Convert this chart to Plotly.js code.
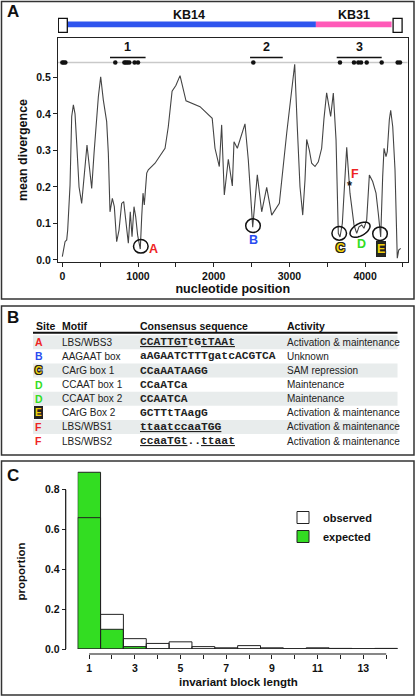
<!DOCTYPE html>
<html><head><meta charset="utf-8">
<script src="https://cdn.plot.ly/plotly-3.0.1.min.js"></script>
<style>html,body{margin:0;padding:0;background:#fff}#chart{width:416px;height:697px}</style>
</head><body><div id="chart"></div>
<script>
// ---------- Panel A data ----------
const ntPos = [0,36,58,71,102,111,124,146,168,190,221,256,291,326,357,388,419,445,476,507,542,586,608,630,661,687,718,749,784,811,841,872,898,921,947,969,995,1030,1049,1066,1083,1115,1136,1225,1357,1400,1450,1500,1555,1634,1819,1980,2017,2074,2105,2140,2193,2246,2268,2312,2413,2457,2515,2576,2634,2700,2766,2867,2964,3070,3104,3140,3176,3206,3228,3263,3294,3338,3382,3426,3457,3492,3523,3545,3580,3616,3646,3668,3699,3734,3757,3778,3800,3823,3853,3889,3919,3955,3985,4021,4056,4100,4144,4174,4206,4232,4250,4276,4293,4320,4338,4365,4395,4425,4444,4470];
const meanDiv = [0.009,0.05,0.055,0.082,0.205,0.329,0.393,0.425,0.40,0.32,0.20,0.155,0.233,0.315,0.256,0.196,0.292,0.37,0.447,0.502,0.438,0.379,0.292,0.132,0.169,0.146,0.05,0.082,0.155,0.16,0.10,0.046,0.132,0.064,0.146,0.119,0.068,0.03,0.119,0.183,0.151,0.238,0.247,0.265,0.306,0.365,0.462,0.478,0.505,0.436,0.42,0.388,0.306,0.256,0.37,0.178,0.276,0.203,0.324,0.306,0.373,0.274,0.09,0.233,0.132,0.199,0.123,0.155,0.347,0.536,0.365,0.2,0.123,0.219,0.33,0.301,0.265,0.256,0.269,0.306,0.388,0.458,0.42,0.393,0.457,0.329,0.073,0.063,0.10,0.228,0.309,0.247,0.183,0.146,0.096,0.073,0.091,0.096,0.087,0.11,0.233,0.215,0.183,0.128,0.063,0.228,0.306,0.283,0.297,0.384,0.41,0.365,0.247,0.005,0.027,0.032];
const invariantSites = [0,20,40,700,820,840,860,885,955,1000,2523,3668,3853,3910,3946,4021,4219,4430,4461];
const invariantLevel = 0.541;
const blockNames = ['1','2','3'];
const blockStart = [630,2480,3625];
const blockEnd = [1100,2912,4219];
const regionNames = ['KB14','KB31'];
const regionStart = [0,3350];
const regionEnd = [3350,4350];
const regionColors = ['#2f55ee','#ff5ab8'];
const siteNames = ['A','B','C','D','E'];
const sitePos = [1037,2519,3658,3933,4197];
const siteDiv = [0.0375,0.094,0.073,0.083,0.072];
const siteFName = 'F';
const siteFPos = 3800;
const siteFDiv = 0.21;
const yTicksA = [0,0.1,0.2,0.3,0.4,0.5];

// ---------- Panel B data ----------
const tableHeader = ['Site','Motif','Consensus sequence','Activity'];
const rowSite = ['A','B','C','D','D','E','F','F'];
const rowMotif = ['LBS/WBS3','AAGAAT box','CArG box 1','CCAAT box 1','CCAAT box 2','CArG Box 2','LBS/WBS1','LBS/WBS2'];
const rowSeq = ['<u>CCATTGT</u>tG<u>tTAAt</u>','aAGAATCTTTgatcACGTCA','CCaAATAAGG','CCaATCa','CCAATCA','GCTTtTAagG','<u>ttaat</u><u>ccaaTGG</u>','<u>ccaaTGt</u>..<u>ttaat</u>'];
const rowActivity = ['Activation &amp; maintenance','Unknown','SAM repression','Maintenance','Maintenance','Activation &amp; maintenance','Activation &amp; maintenance','Activation &amp; maintenance'];

// ---------- Panel C data ----------
const blockLength = [1,2,3,4,5,6,7,8,9,10,11,12,13,14];
const observedProp = [0.66,0.174,0.052,0.028,0.036,0.012,0.006,0.017,0.006,0.001,0.006,0.003,0.001,0.003];
const expectedProp = [0.888,0.099,0.012,0.001,0,0,0,0,0,0,0,0,0,0];
const xTickValsC = [1,2,3,4,5,6,7,8,9,10,11,12,13,14];
const yTicksC = [0,0.2,0.4,0.6,0.8];

// ---------- helpers ----------
const W = 416, H = 697;
const X = p => p / W;
const Y = p => 1 - p / H;
const FONT = 'Liberation Sans, Arial, Helvetica, sans-serif';
const MONO = 'Liberation Mono, Courier New, monospace';
const RED = '#ee2424', BLUE = '#2a4cf0', GREEN = '#33dd22', YEL = '#f2d20a';
const OUTLINE = '-1px -1px 0 #222, 1px -1px 0 #222, -1px 1px 0 #222, 1px 1px 0 #222, 0 1px 0 #222, 0 -1px 0 #222, 1px 0 0 #222, -1px 0 0 #222';
const siteColor = {A:RED, B:BLUE, C:YEL, D:GREEN, E:YEL, F:RED};

// Panel A axes geometry
const axA = {x0:58, x1:407.5, y0:38, y1:262, xr:[-57,4560], yr:[-0.0055,0.608]};
const pxPerX = (axA.x1-axA.x0)/(axA.xr[1]-axA.xr[0]);
const pxPerY = (axA.y1-axA.y0)/(axA.yr[1]-axA.yr[0]);
const dX = p => p/pxPerX, dY = p => p/pxPerY;

const traces = [];
traces.push({type:'scatter', mode:'lines', x:ntPos, y:meanDiv, xaxis:'x', yaxis:'y',
  line:{color:'#444', width:1.1}, showlegend:false, hoverinfo:'x+y'});
traces.push({type:'scatter', mode:'markers', x:invariantSites, y:invariantSites.map(()=>invariantLevel),
  xaxis:'x', yaxis:'y', marker:{color:'#111', size:4.5}, showlegend:false, cliponaxis:false});

traces.push({type:'bar', name:'expected', x:blockLength, y:expectedProp, xaxis:'x2', yaxis:'y2', width:1,
  marker:{color:GREEN, line:{color:'#222', width:1}}, showlegend:true});
traces.push({type:'bar', name:'observed', x:blockLength, y:observedProp, xaxis:'x2', yaxis:'y2', width:1,
  marker:{color:'rgba(255,255,255,0)', line:{color:'#222', width:1}}, showlegend:true});

const shapes = [];
const ann = [];
function A(o){ ann.push(Object.assign({showarrow:false, xanchor:'center', yanchor:'middle'}, o)); }

// panel borders
[[1.5,1.5,414,299],[1.5,306,414,455],[1.5,461,414,695]].forEach(b=>{
  shapes.push({type:'rect', xref:'paper', yref:'paper', x0:X(b[0]), x1:X(b[2]), y0:Y(b[3]), y1:Y(b[1]),
    line:{color:'#333', width:1.5}, fillcolor:'rgba(0,0,0,0)', layer:'above'});
});
// panel letters
[['A',11.5],['B',317],['C',475]].forEach(l=>{
  A({text:'<b>'+l[0]+'</b>', xref:'paper', yref:'paper', x:X(5), y:Y(l[1]), xanchor:'left',
    font:{family:FONT, size:17, color:'#111'}});
});

// region bar (KB14 / KB31)
regionNames.forEach((n,i)=>{
  shapes.push({type:'rect', xref:'x', yref:'paper', x0:regionStart[i], x1:regionEnd[i], y0:Y(27.3), y1:Y(21.5),
    line:{width:0}, fillcolor:regionColors[i]});
  A({text:'<b>'+n+'</b>', xref:'x', yref:'paper', x:(regionStart[i]+regionEnd[i])/2, y:Y(15),
    font:{family:FONT, size:12.5, color:'#111'}});
});
// end brackets
[[regionStart[0], -1],[regionEnd[1], 1]].forEach(e=>{
  const c = e[0] + e[1]*dX(e[1]<0?-0.5:6);
  shapes.push({type:'rect', xref:'x', yref:'paper', x0:c-dX(4.5), x1:c+dX(4.5), y0:Y(32.3), y1:Y(18.3),
    line:{color:'#111', width:1.3}, fillcolor:'#fff'});
});

// gray invariant-site line
shapes.push({type:'line', xref:'x domain', yref:'y', x0:0, x1:1, y0:invariantLevel, y1:invariantLevel,
  line:{color:'#c9c9c9', width:1.6}, layer:'below'});
// conserved blocks 1,2,3
blockNames.forEach((n,i)=>{
  const yb = invariantLevel + dY(5);
  shapes.push({type:'line', xref:'x', yref:'y', x0:blockStart[i], x1:blockEnd[i], y0:yb, y1:yb, line:{color:'#111', width:1.6}});
  A({text:'<b>'+n+'</b>', xref:'x', yref:'y', x:(blockStart[i]+blockEnd[i])/2, y:yb+dY(1), yanchor:'bottom',
    font:{family:FONT, size:12.5, color:'#111'}});
});

// site circles and labels
siteNames.forEach((n,i)=>{
  const cx = sitePos[i], cy = siteDiv[i];
  if (n === 'D') {
    const a = 11, b = 6, th = -30*Math.PI/180;
    let pts = [];
    for (let k=0;k<=48;k++){
      const t = k/48*2*Math.PI;
      const ex = a*Math.cos(t)*Math.cos(th) - b*Math.sin(t)*Math.sin(th);
      const ey = a*Math.cos(t)*Math.sin(th) + b*Math.sin(t)*Math.cos(th);
      pts.push((cx + dX(ex)).toFixed(2)+','+(cy - dY(ey)).toFixed(5));
    }
    shapes.push({type:'path', xref:'x', yref:'y', path:'M'+pts.join('L')+'Z', line:{color:'#111', width:1.5}});
  } else {
    shapes.push({type:'circle', xref:'x', yref:'y', x0:cx-dX(7.3), x1:cx+dX(7.3), y0:cy-dY(6.8), y1:cy+dY(6.8),
      line:{color:'#111', width:1.5}});
  }
});
const labOff = {A:[13,-3], B:[0,-14.5], C:[1,-15], D:[1.5,-14.5], E:[1,-15.3]};
siteNames.forEach((n,i)=>{
  const o = labOff[n];
  const a = {text:'<b>'+n+'</b>', xref:'x', yref:'y', x:sitePos[i]+dX(o[0]), y:siteDiv[i]+dY(o[1]),
    font:{family:FONT, size:12.5, color:siteColor[n]}};
  if (n==='C' || n==='E') a.font.shadow = OUTLINE;
  if (n==='E') {a.bgcolor = '#2a2a1e'; a.borderpad = 0; a.bordercolor='#222'; a.borderwidth=1;}
  A(a);
});
A({text:'<b>'+siteFName+'</b>', xref:'x', yref:'y', x:siteFPos+dX(5), y:siteFDiv+dY(9.5),
  font:{family:FONT, size:12.5, color:RED}});
A({text:'<b>*</b>', xref:'x', yref:'y', x:siteFPos, y:siteFDiv-dY(2),
  font:{family:FONT, size:13, color:'#111'}});

// ---------- Panel B table ----------
const colX = [33.5, 60, 137.5, 285];
const headY = 326, rowY0 = 342.3, rowStep = 14.1;
tableHeader.forEach((h,j)=>{
  A({text:'<b>'+h+'</b>', xref:'paper', yref:'paper', x:X(colX[j]), y:Y(headY), xanchor:'left',
    font:{family:FONT, size:10.5, color:'#111'}});
});
shapes.push({type:'line', xref:'paper', yref:'paper', x0:X(33), x1:X(397.5), y0:Y(332.8), y1:Y(332.8), line:{color:'#111', width:2}});
rowSite.forEach((s,i)=>{
  const yc = rowY0 + i*rowStep;
  if (i%2===0) shapes.push({type:'rect', xref:'paper', yref:'paper', x0:X(33), x1:X(397.5), y0:Y(yc+7), y1:Y(yc-7),
    line:{width:0}, fillcolor:'#e8ecec', layer:'below'});
  const sa = {text:'<b>'+s+'</b>', xref:'paper', yref:'paper', x:X(38.5), y:Y(yc),
    font:{family:FONT, size:10.5, color:siteColor[s]}};
  if (s==='C') { sa.font.shadow = OUTLINE; sa.font.size = 10; }
  if (s==='E') { sa.font.shadow = OUTLINE; sa.font.size = 10; sa.bgcolor='#222'; sa.borderpad=0; sa.bordercolor='#222'; sa.borderwidth=1; }
  A(sa);
  A({text:rowMotif[i], xref:'paper', yref:'paper', x:X(colX[1]), y:Y(yc), xanchor:'left',
    font:{family:FONT, size:10, color:'#222'}});
  A({text:rowSeq[i], xref:'paper', yref:'paper', x:X(colX[2]), y:Y(yc), xanchor:'left',
    font:{family:MONO, size:11.3, color:'#222', weight:'bold'}});
  A({text:rowActivity[i], xref:'paper', yref:'paper', x:X(colX[3]), y:Y(yc), xanchor:'left',
    font:{family:FONT, size:10, color:'#222'}});
});

// ---------- Panel C extras ----------
const cX0 = 77.7, cUnit = 22.85;
shapes.push({type:'line', xref:'x2', yref:'paper', x0:1, x1:14, y0:Y(654), y1:Y(654), line:{color:'#111', width:1.2}});
shapes.push({type:'line', xref:'paper', yref:'y2', x0:X(65.7), x1:X(65.7), y0:0, y1:0.8, line:{color:'#111', width:1.2}});
A({text:'<b>proportion</b>', xref:'paper', yref:'paper', x:X(20), y:Y(571.5), textangle:-90,
  font:{family:FONT, size:11.5, color:'#111'}});
A({text:'<b>invariant block length</b>', xref:'paper', yref:'paper', x:X(238), y:Y(681.5),
  font:{family:FONT, size:11.5, color:'#111'}});

const layout = {
  width:W, height:H, margin:{l:0,r:0,t:0,b:0}, paper_bgcolor:'#fff', plot_bgcolor:'rgba(0,0,0,0)',
  font:{family:FONT, color:'#111'}, barmode:'overlay', bargap:0,
  xaxis:{domain:[X(axA.x0),X(axA.x1)], range:axA.xr, anchor:'y', showline:true, mirror:true, linecolor:'#222', linewidth:1,
    ticks:'outside', ticklen:4, tickcolor:'#222', tick0:0, dtick:1000,
    minor:{tick0:0, dtick:500, ticks:'outside', ticklen:4, tickcolor:'#222', showgrid:false},
    showgrid:false, zeroline:false, tickfont:{size:10.5, weight:'bold', family:FONT},
    title:{text:'<b>nucleotide position</b>', font:{size:12.5, family:FONT}, standoff:3}},
  yaxis:{domain:[Y(axA.y1),Y(axA.y0)], range:axA.yr, anchor:'x', showline:true, mirror:true, linecolor:'#222', linewidth:1,
    ticks:'outside', ticklen:4, tickcolor:'#222', tickvals:yTicksA, tickformat:'.1f',
    showgrid:false, zeroline:false, tickfont:{size:10.5, weight:'bold', family:FONT},
    title:{text:'<b>mean divergence</b>', font:{size:12.5, family:FONT}, standoff:5}},
  xaxis2:{domain:[X(cX0), X(cX0+14*cUnit)], range:[0.5,14.5], anchor:'free', position:Y(654), showline:false,
    ticks:'outside', ticklen:4, tickcolor:'#222', tickvals:xTickValsC, ticktext:xTickValsC.map(v=>v%2?String(v):''),
    showgrid:false, zeroline:false, tickfont:{size:10.5, weight:'bold', family:FONT}},
  yaxis2:{domain:[Y(649),Y(465)], range:[0,0.9246], anchor:'free', position:X(65.7), showline:false,
    ticks:'outside', ticklen:4, tickcolor:'#222', tickvals:yTicksC, tickformat:'.1f',
    showgrid:false, zeroline:false, tickfont:{size:10.5, weight:'bold', family:FONT}},
  showlegend:true,
  legend:{x:X(283), y:Y(503), xanchor:'left', yanchor:'top', traceorder:'reversed', bgcolor:'rgba(0,0,0,0)',
    font:{family:FONT, size:11, weight:'bold', color:'#111'}},
  shapes:shapes, annotations:ann
};
Plotly.newPlot('chart', traces, layout, {staticPlot:true, displayModeBar:false});
</script></body></html>
